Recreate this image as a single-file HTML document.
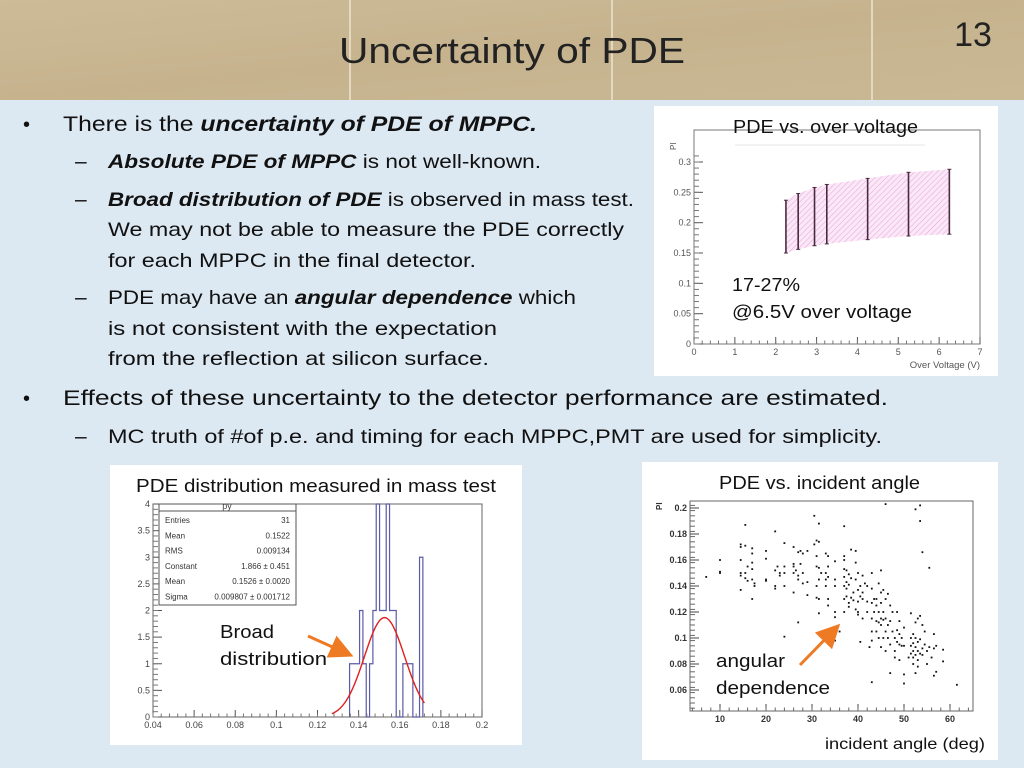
<!DOCTYPE html>
<html><head><meta charset="utf-8"><style>
html,body{margin:0;padding:0;}
body{width:1024px;height:768px;overflow:hidden;background:#dce8f2;font-family:"Liberation Sans",sans-serif;}
svg{display:block}
</style></head><body>
<svg id="s" width="1024" height="768" viewBox="0 0 1024 768" xmlns="http://www.w3.org/2000/svg">
<defs>
<linearGradient id="hdr" x1="0" y1="0" x2="1" y2="1">
<stop offset="0" stop-color="#cdbb98"/><stop offset="0.5" stop-color="#c6b38e"/><stop offset="1" stop-color="#cab895"/>
</linearGradient>
<pattern id="hatch" width="4" height="4" patternUnits="userSpaceOnUse" patternTransform="rotate(45)">
<rect width="4" height="4" fill="#fbe8f7"/><line x1="0" y1="0" x2="0" y2="4" stroke="#eaa6de" stroke-width="1.1"/>
</pattern>
<marker id="ah" markerWidth="8" markerHeight="8" refX="6" refY="4" orient="auto"><path d="M0,0 L8,4 L0,8 z" fill="#ef7a24"/></marker>
</defs>
<rect x="0" y="0" width="1024" height="100" fill="url(#hdr)"/>
<line x1="350" y1="0" x2="350" y2="100" stroke="#e4d8c0" stroke-width="2"/>
<line x1="612" y1="0" x2="612" y2="100" stroke="#e4d8c0" stroke-width="2"/>
<line x1="872" y1="0" x2="872" y2="100" stroke="#e4d8c0" stroke-width="2"/>
<text x="512" y="63" text-anchor="middle" font-size="36" fill="#222" textLength="346" lengthAdjust="spacingAndGlyphs">Uncertainty of PDE</text>
<text x="973" y="46" text-anchor="middle" font-size="34" fill="#222">13</text>

<g font-size="21" fill="#111">
<text x="23" y="131" font-size="20">•</text>
<text x="63" y="131" textLength="474" lengthAdjust="spacingAndGlyphs">There is the <tspan font-weight="bold" font-style="italic">uncertainty of PDE of MPPC.</tspan></text>
<text x="75" y="168">–</text>
<text x="108" y="168" font-size="19.5" textLength="433" lengthAdjust="spacingAndGlyphs"><tspan font-weight="bold" font-style="italic">Absolute PDE of MPPC</tspan> is not well-known.</text>
<text x="75" y="206">–</text>
<text x="108" y="206" font-size="19.5" textLength="526" lengthAdjust="spacingAndGlyphs"><tspan font-weight="bold" font-style="italic">Broad distribution of PDE</tspan> is observed in mass test.</text>
<text x="108" y="236" font-size="19.5" textLength="516" lengthAdjust="spacingAndGlyphs">We may not be able to measure the PDE correctly</text>
<text x="108" y="267" font-size="19.5" textLength="368" lengthAdjust="spacingAndGlyphs">for each MPPC in the final detector.</text>
<text x="75" y="304">–</text>
<text x="108" y="304" font-size="19.5" textLength="468" lengthAdjust="spacingAndGlyphs">PDE may have an <tspan font-weight="bold" font-style="italic">angular dependence</tspan> which</text>
<text x="108" y="335" font-size="19.5" textLength="389" lengthAdjust="spacingAndGlyphs">is not consistent with the expectation</text>
<text x="108" y="365" font-size="19.5" textLength="381" lengthAdjust="spacingAndGlyphs">from the reflection at silicon surface.</text>
<text x="23" y="405" font-size="20">•</text>
<text x="63" y="405" textLength="825" lengthAdjust="spacingAndGlyphs">Effects of these uncertainty to the detector performance are estimated.</text>
<text x="75" y="443">–</text>
<text x="108" y="443" font-size="19.5" textLength="774" lengthAdjust="spacingAndGlyphs">MC truth of #of p.e. and timing for each MPPC,PMT are used for simplicity.</text>
</g>

<rect x="654" y="106" width="344" height="270" fill="#fff"/>
<rect x="110" y="465" width="412" height="280" fill="#fff"/>
<rect x="642" y="462" width="356" height="298" fill="#fff"/>
<g id="c1"></g>
<g id="c2"></g>
<g id="c3"></g>

<text x="733" y="133" font-size="18" fill="#111" textLength="185" lengthAdjust="spacingAndGlyphs">PDE vs. over voltage</text>
<line x1="735" y1="145" x2="925" y2="145" stroke="#e6e6e6" stroke-width="1"/>
<text x="732" y="291" font-size="18" fill="#111" textLength="68" lengthAdjust="spacingAndGlyphs">17-27%</text>
<text x="732" y="318" font-size="18" fill="#111" textLength="180" lengthAdjust="spacingAndGlyphs">@6.5V over voltage</text>
<text x="136" y="492" font-size="18" fill="#111" textLength="360" lengthAdjust="spacingAndGlyphs">PDE distribution measured in mass test</text>
<text x="220" y="638" font-size="18" fill="#111" textLength="54" lengthAdjust="spacingAndGlyphs">Broad</text>
<text x="220" y="665" font-size="18" fill="#111" textLength="107" lengthAdjust="spacingAndGlyphs">distribution</text>
<line x1="308" y1="636" x2="348" y2="654" stroke="#ef7a24" stroke-width="3" marker-end="url(#ah)"/>
<text x="719" y="489" font-size="18" fill="#111" textLength="201" lengthAdjust="spacingAndGlyphs">PDE vs. incident angle</text>
<text x="716" y="667" font-size="18" fill="#111" textLength="69" lengthAdjust="spacingAndGlyphs">angular</text>
<text x="716" y="694" font-size="18" fill="#111" textLength="114" lengthAdjust="spacingAndGlyphs">dependence</text>
<line x1="800" y1="665" x2="836" y2="628" stroke="#ef7a24" stroke-width="3" marker-end="url(#ah)"/>
<text x="825" y="749" font-size="16" fill="#111" textLength="160" lengthAdjust="spacingAndGlyphs">incident angle (deg)</text>
</svg>
<script>
// Chart 1 data
const voltX=[2.25,2.55,2.95,3.25,4.25,5.25,6.25];
const voltLow=[0.150,0.156,0.162,0.165,0.172,0.178,0.181];
const voltHigh=[0.237,0.248,0.258,0.263,0.273,0.283,0.288];
const voltXTicks=[0,1,2,3,4,5,6,7];
const voltYTicks=[0,0.05,0.1,0.15,0.2,0.25,0.3];
// Chart 2 data
const binStart=0.1356, binWidth=0.00162;
const binCounts=[1,1,1,2,1,0,1,2,4,2,2,4,2,2,0,0,1,1,1,0,0,3];
const histXTicks=[0.04,0.06,0.08,0.1,0.12,0.14,0.16,0.18,0.2];
const histYTicks=[0,0.5,1,1.5,2,2.5,3,3.5,4];
const fitParams=[1.866,0.1526,0.009807];
const statNames=["Entries","Mean","RMS","Constant","Mean","Sigma"];
const statValues=["31","0.1522","0.009134","1.866 ± 0.451","0.1526 ± 0.0020","0.009807 ± 0.001712"];
// Chart 3 data
const anglePts=[[7,0.147],[10,0.16],[10,0.151],[10,0.15],[14.5,0.172],[14.5,0.17],[14.5,0.16],[14.5,0.15],[14.5,0.148],[14.5,0.137],[15.5,0.187],[15.5,0.171],[15.5,0.15],[15.5,0.146],[16,0.155],[16,0.144],[17,0.169],[17,0.165],[17,0.158],[17,0.153],[17,0.145],[17,0.13],[17.5,0.142],[17.5,0.14],[20,0.167],[20,0.161],[20,0.145],[20,0.144],[22,0.182],[22,0.152],[22,0.14],[22,0.138],[22.5,0.155],[23,0.15],[23,0.148],[24,0.173],[24,0.155],[24,0.15],[24,0.14],[24,0.101],[26,0.17],[26,0.157],[26,0.155],[26,0.15],[26,0.135],[26.5,0.152],[27,0.166],[27,0.148],[27,0.145],[27,0.112],[27.5,0.167],[27.5,0.157],[28,0.165],[28,0.15],[28,0.142],[29,0.167],[29,0.143],[29,0.133],[30.5,0.194],[30.5,0.172],[31,0.175],[31,0.163],[31,0.155],[31,0.14],[31,0.131],[31.5,0.188],[31.5,0.174],[31.5,0.154],[31.5,0.145],[31.5,0.13],[31.5,0.119],[32,0.15],[32,0.101],[33,0.165],[33,0.15],[33,0.145],[33,0.14],[33.5,0.163],[33.5,0.155],[33.5,0.147],[33.5,0.13],[33.5,0.125],[33.5,0.106],[35,0.159],[35,0.145],[35,0.14],[35,0.12],[35,0.116],[35,0.098],[36,0.105],[37,0.186],[37,0.163],[37,0.16],[37,0.153],[37,0.147],[37,0.14],[37,0.13],[37,0.12],[37.5,0.152],[37.5,0.143],[37.5,0.138],[37.5,0.132],[38,0.149],[38,0.141],[38,0.127],[38,0.124],[38.5,0.168],[38.5,0.146],[38.5,0.131],[39,0.135],[39,0.129],[39.5,0.167],[39.5,0.158],[39.5,0.145],[39.5,0.122],[40,0.15],[40,0.137],[40,0.128],[40,0.12],[40,0.118],[40.5,0.14],[40.5,0.132],[40.5,0.097],[41,0.148],[41,0.135],[41,0.13],[41,0.115],[41.5,0.142],[42,0.14],[42,0.128],[42,0.12],[42.5,0.093],[43,0.15],[43,0.138],[43,0.127],[43,0.115],[43,0.105],[43,0.098],[43,0.066],[43.5,0.13],[43.5,0.12],[44,0.13],[44,0.125],[44,0.113],[44,0.105],[44.5,0.142],[44.5,0.12],[44.5,0.112],[44.5,0.1],[45,0.152],[45,0.135],[45,0.127],[45,0.115],[45,0.11],[45,0.093],[45.5,0.137],[45.5,0.12],[45.5,0.114],[45.5,0.1],[46,0.203],[46,0.13],[46,0.115],[46,0.105],[46,0.09],[46.5,0.134],[46.5,0.11],[46.5,0.1],[47,0.125],[47,0.113],[47,0.095],[47,0.073],[47.5,0.12],[47.5,0.105],[48,0.1],[48,0.09],[48,0.085],[48.5,0.12],[48.5,0.106],[48.5,0.097],[49,0.113],[49,0.103],[49,0.095],[49,0.083],[49.5,0.1],[49.5,0.094],[50,0.108],[50,0.094],[50,0.072],[50,0.065],[51,0.085],[51.5,0.119],[51.5,0.1],[51.5,0.094],[51.5,0.088],[52,0.103],[52,0.096],[52,0.09],[52,0.085],[52,0.08],[52.5,0.199],[52.5,0.112],[52.5,0.1],[52.5,0.093],[52.5,0.087],[52.5,0.073],[53,0.115],[53,0.097],[53,0.09],[53,0.083],[53,0.078],[53.5,0.202],[53.5,0.19],[53.5,0.117],[53.5,0.099],[53.5,0.088],[54,0.166],[54,0.11],[54,0.092],[54,0.087],[54.5,0.105],[54.5,0.095],[55,0.09],[55,0.08],[55.5,0.154],[55.5,0.093],[56,0.085],[56.5,0.103],[56.5,0.092],[56.5,0.071],[57,0.094],[57,0.074],[58.5,0.091],[58.5,0.082],[61.5,0.064]];
const angleXTicks=[10,20,30,40,50,60];
const angleYTicks=[0.06,0.08,0.1,0.12,0.14,0.16,0.18,0.2];

const NS="http://www.w3.org/2000/svg";
function mk(parent,tag,attrs,txt){const e=document.createElementNS(NS,tag);for(const k in attrs)e.setAttribute(k,attrs[k]);if(txt!==undefined)e.textContent=txt;parent.appendChild(e);return e;}
function lin(d0,d1,p0,p1){return v=>p0+(v-d0)*(p1-p0)/(d1-d0);}

// ---- Chart 1
(function(){
const g=document.getElementById('c1');
const X=lin(0,7,694,980),Y=lin(0,0.3,344,162);
mk(g,'rect',{x:694,y:130,width:286,height:214,fill:'none',stroke:'#777','stroke-width':1});
let pts=voltX.map((v,i)=>X(v)+','+Y(voltHigh[i])).concat(voltX.slice().reverse().map((v,i)=>X(v)+','+Y(voltLow[voltX.length-1-i])));
const band=mk(g,'polygon',{points:pts.join(' '),fill:'url(#hatch)',stroke:'none'});


voltX.forEach((v,i)=>{const l=mk(g,'line',{x1:X(v),x2:X(v),y1:Y(voltLow[i]),y2:Y(voltHigh[i]),stroke:'#4a2a40','stroke-width':1.6});


mk(g,'line',{x1:X(v)-2,x2:X(v)+2,y1:Y(voltLow[i]),y2:Y(voltLow[i]),stroke:'#4a2a40'});
mk(g,'line',{x1:X(v)-2,x2:X(v)+2,y1:Y(voltHigh[i]),y2:Y(voltHigh[i]),stroke:'#4a2a40'});});
voltXTicks.forEach(t=>{mk(g,'line',{x1:X(t),x2:X(t),y1:344,y2:337,stroke:'#555'});const tx=mk(g,'text',{x:X(t),y:355,'font-size':9,'text-anchor':'middle',fill:'#555'},t);

});
for(let t=0;t<7;t+=0.2){mk(g,'line',{x1:X(t),x2:X(t),y1:344,y2:340.5,stroke:'#777'});}
voltYTicks.forEach(t=>{mk(g,'line',{x1:694,x2:703,y1:Y(t),y2:Y(t),stroke:'#555'});const tx=mk(g,'text',{x:691,y:Y(t)+3,'font-size':9,'text-anchor':'end',fill:'#555'},t);

});
for(let t=0;t<=0.32;t+=0.01){mk(g,'line',{x1:694,x2:699,y1:Y(t),y2:Y(t),stroke:'#777'});}
mk(g,'text',{x:980,y:368,'font-size':9.5,'text-anchor':'end',fill:'#555'},'Over Voltage (V)');
mk(g,'text',{x:676,y:150,'font-size':8,fill:'#555',transform:'rotate(-90 676 150)'},'PI');
})();

// ---- Chart 2
(function(){
const g=document.getElementById('c2');
const X=lin(0.04,0.2,153,482),Y=lin(0,4,717,504);
mk(g,'rect',{x:153,y:504,width:329,height:213,fill:'none',stroke:'#666','stroke-width':1});
let d='M'+X(binStart)+','+Y(0);
binCounts.forEach((c,i)=>{const x0=X(binStart+i*binWidth),x1=X(binStart+(i+1)*binWidth);d+=' L'+x0+','+Y(c)+' L'+x1+','+Y(c);});
d+=' L'+X(binStart+binCounts.length*binWidth)+','+Y(0);
const h=mk(g,'path',{d:d,fill:'none',stroke:'#5b5ba8','stroke-width':1.2});


let fd='';for(let v=0.127;v<=0.1725;v+=0.0005){const y=fitParams[0]*Math.exp(-0.5*Math.pow((v-fitParams[1])/fitParams[2],2));fd+=(fd?' L':'M')+X(v)+','+Y(y);}
const f=mk(g,'path',{d:fd,fill:'none',stroke:'#e02020','stroke-width':1.4});


histXTicks.forEach(t=>{mk(g,'line',{x1:X(t),x2:X(t),y1:717,y2:710,stroke:'#555'});const tx=mk(g,'text',{x:X(t),y:728,'font-size':9,'text-anchor':'middle',fill:'#444'},t);

});
for(let t=0.04;t<0.2;t+=0.004){mk(g,'line',{x1:X(t),x2:X(t),y1:717,y2:713.5,stroke:'#777'});}
histYTicks.forEach(t=>{mk(g,'line',{x1:153,x2:162,y1:Y(t),y2:Y(t),stroke:'#555'});const tx=mk(g,'text',{x:150,y:Y(t)+3,'font-size':9,'text-anchor':'end',fill:'#444'},t);

});
for(let t=0;t<=4;t+=0.1){mk(g,'line',{x1:153,x2:158,y1:Y(t),y2:Y(t),stroke:'#777'});}
const sb=mk(g,'rect',{x:159,y:504,width:137,height:101,fill:'#fff',stroke:'#555'});


mk(g,'line',{x1:159,x2:296,y1:511,y2:511,stroke:'#555'});
mk(g,'text',{x:227,y:509,'font-size':9,'text-anchor':'middle',fill:'#444'},'py');
statNames.forEach((n,i)=>{const y=523+i*15.3;mk(g,'text',{x:165,y:y,'font-size':8,fill:'#333'},n);mk(g,'text',{x:290,y:y,'font-size':8,'text-anchor':'end',fill:'#333'},statValues[i]);});
})();

// ---- Chart 3
(function(){
const g=document.getElementById('c3');
const X=lin(10,60,720,950),Y=lin(0.06,0.2,690,508);
mk(g,'rect',{x:690,y:501,width:283,height:210,fill:'none',stroke:'#666','stroke-width':1});
anglePts.forEach(p=>{const r=mk(g,'rect',{x:X(p[0])-0.9,y:Y(p[1])-0.9,width:1.8,height:1.8,fill:'#111'});

});
angleXTicks.forEach(t=>{mk(g,'line',{x1:X(t),x2:X(t),y1:711,y2:704,stroke:'#444'});const tx=mk(g,'text',{x:X(t),y:722,'font-size':9,'font-weight':'bold','text-anchor':'middle',fill:'#333'},t);

});
for(let t=4;t<=64;t+=2){mk(g,'line',{x1:X(t),x2:X(t),y1:711,y2:707.5,stroke:'#666'});}
angleYTicks.forEach(t=>{mk(g,'line',{x1:690,x2:699,y1:Y(t),y2:Y(t),stroke:'#444'});const tx=mk(g,'text',{x:687,y:Y(t)+3,'font-size':9,'font-weight':'bold','text-anchor':'end',fill:'#333'},t);

});
for(let t=0.046;t<=0.204;t+=0.004){mk(g,'line',{x1:690,x2:695,y1:Y(t),y2:Y(t),stroke:'#666'});}
mk(g,'text',{x:662,y:510,'font-size':8,'font-weight':'bold',fill:'#333',transform:'rotate(-90 662 510)'},'PI');
})();
</script>
</body></html>
